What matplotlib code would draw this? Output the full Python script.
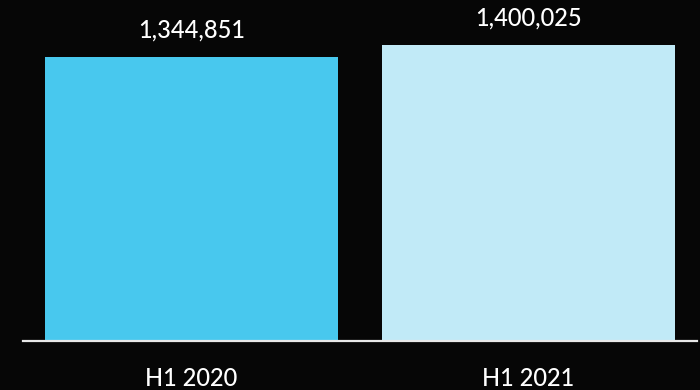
"""Bar chart of H1 2020 vs H1 2021"""
import matplotlib.pyplot as plt

categories = ["H1 2020", "H1 2021"]
values = [1344851, 1400025]
colors = ["#48C8EE", "#C1EAF7"]

plt.rcParams['font.family'] = ['Lato', 'DejaVu Sans']


def plot():
    """ploting function"""
    fig = plt.figure(figsize=(7, 3.9), dpi=100, facecolor="#060606")
    ax = fig.add_axes([23 / 700, 49 / 390, 674 / 700, 341 / 390])
    ax.set_facecolor("#060606")
    pos = list(range(len(categories)))
    ax.bar(pos, values, width=0.87, color=colors)
    ax.set_xlim(-0.5, 1.5)
    ax.set_ylim(0, 1613000)
    for side in ["top", "left", "right"]:
        ax.spines[side].set_visible(False)
    ax.spines["bottom"].set_color("#e8e8e8")
    ax.spines["bottom"].set_linewidth(1.6)
    ax.set_xticks([])
    ax.set_yticks([])
    for i, v in enumerate(values):
        ax.annotate(f"{v:,}", xy=(i, v), xytext=(0, 13.7),
                    textcoords="offset points", ha="center", va="baseline",
                    color="white", fontsize=17, fontweight="medium")
        ax.annotate(categories[i], xy=(i, 0), xycoords=("data", "axes fraction"),
                    xytext=(0, -32.4), textcoords="offset points",
                    ha="center", va="baseline", color="white", fontsize=17,
                    fontweight="medium", annotation_clip=False)
    fig.savefig("out.png", dpi=100, facecolor=fig.get_facecolor())


plot()
